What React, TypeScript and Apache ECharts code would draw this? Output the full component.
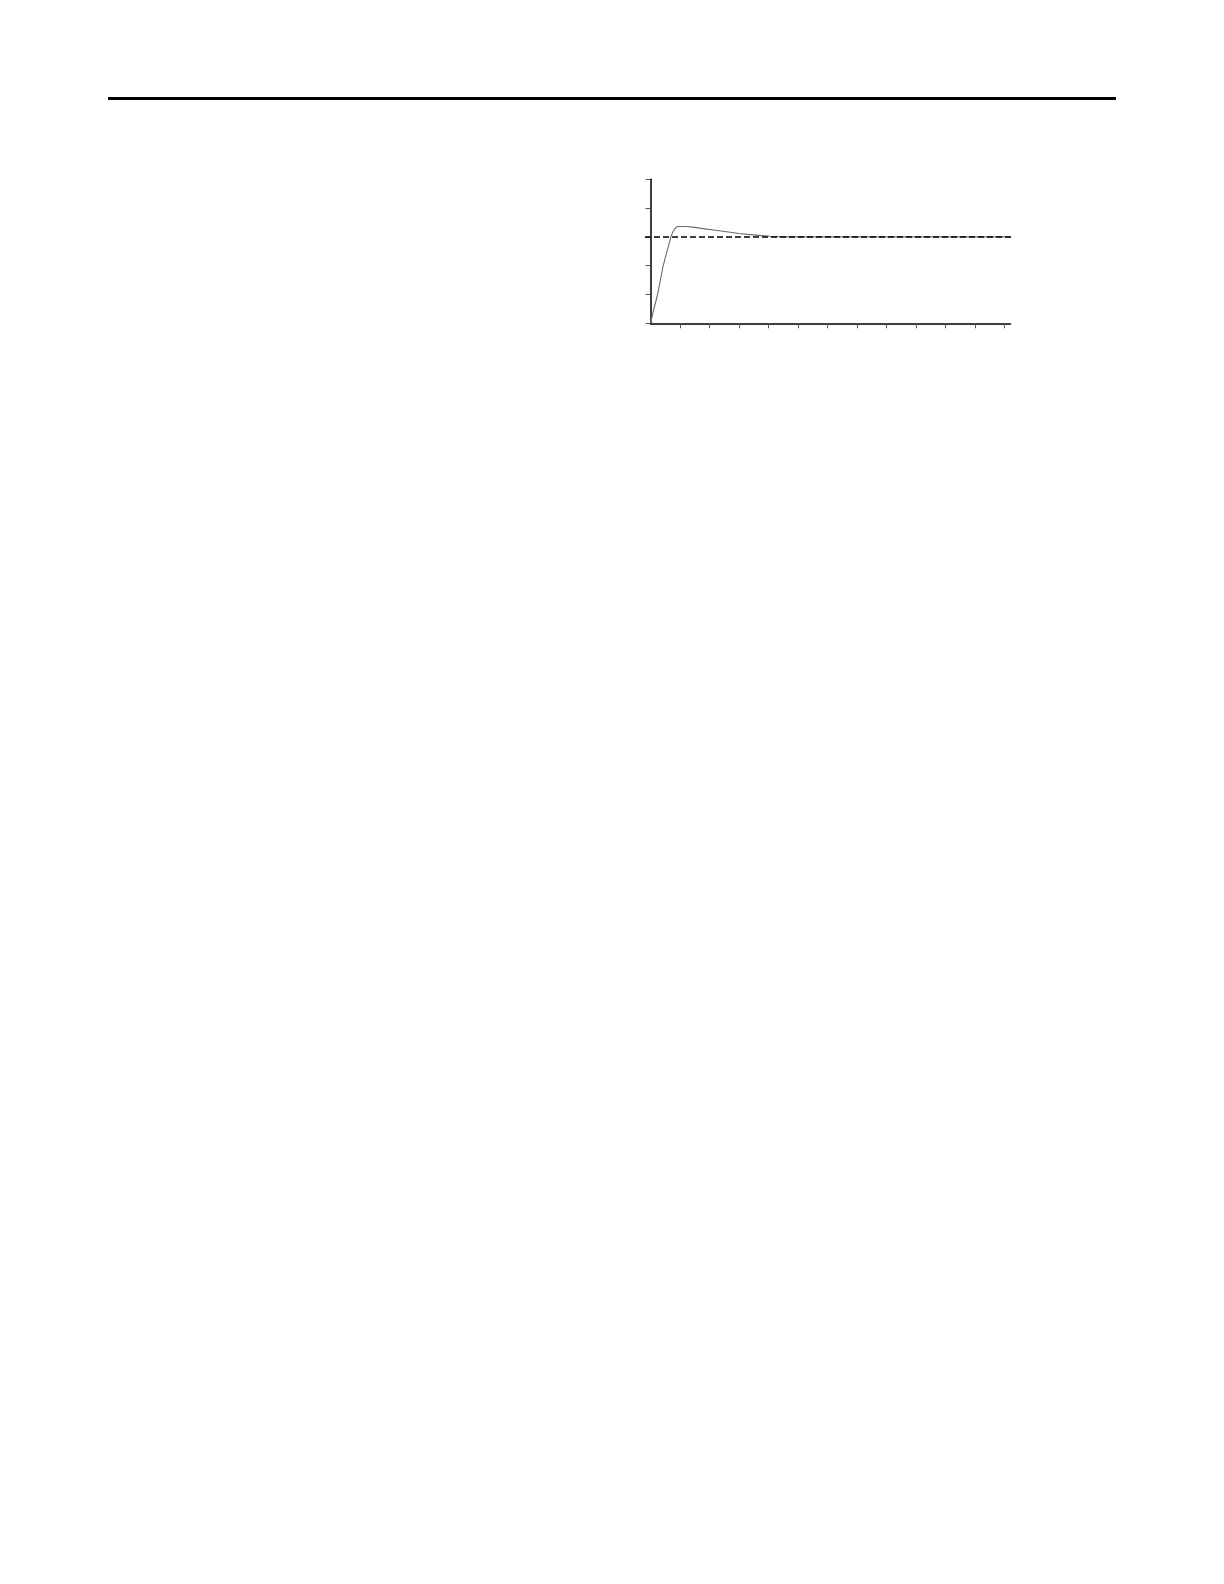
import React, { useEffect, useRef } from "react";
import * as echarts from "echarts";

// Response curve
const timeValues = [0, 0.1, 0.24, 0.43, 0.6, 0.69, 0.76, 0.82, 0.88, 0.95, 1.2, 1.5, 1.84, 2.2, 2.58, 3.0, 3.48, 4.04, 4.5, 12.2];
const responseValues = [0, 0.44, 1.0, 2.0, 2.65, 3.0, 3.18, 3.28, 3.34, 3.36, 3.36, 3.33, 3.28, 3.23, 3.18, 3.12, 3.07, 3.02, 3.0, 3.0];

// Reference (set-point) level
const setPointValue = 3;
const setPointSpan = [0, 1];

// Axis ticks
const xTickValues = [1, 2, 3, 4, 5, 6, 7, 8, 9, 10, 11, 12];
const xMax = 12.2;
const yMax = 5;

export default function App() {
  const ref = useRef<HTMLDivElement>(null);

  useEffect(() => {
    if (!ref.current) return;
    const chart = echarts.init(ref.current, null, { renderer: "svg" });
    const gridTop = 179.3;
    const gridHeight = 144;
    chart.setOption({
      animation: false,
      backgroundColor: "#ffffff",
      graphic: [
        {
          type: "rect",
          shape: { x: 108, y: 97, width: 1008, height: 3 },
          style: { fill: "#000000" },
          silent: true,
        },
      ],
      grid: [
        { left: 650.5, top: gridTop, width: 360, height: gridHeight, containLabel: false },
        { left: 645, top: gridTop, width: 366, height: gridHeight, containLabel: false },
      ],
      xAxis: [
        {
          type: "value",
          gridIndex: 0,
          min: 0,
          max: xMax,
          interval: 1,
          axisLine: { show: true, lineStyle: { color: "#000", width: 1.5 } },
          axisTick: {
            show: true,
            inside: false,
            length: 5,
            customValues: xTickValues,
            lineStyle: { color: "#555", width: 1 },
          },
          axisLabel: { show: false },
          splitLine: { show: false },
        },
        {
          type: "value",
          gridIndex: 1,
          min: setPointSpan[0],
          max: setPointSpan[1],
          show: false,
        },
      ],
      yAxis: [
        {
          type: "value",
          gridIndex: 0,
          min: 0,
          max: yMax,
          interval: 1,
          axisLine: { show: true, onZero: false, lineStyle: { color: "#000", width: 1.5 } },
          axisTick: { show: true, inside: false, length: 5, lineStyle: { color: "#555", width: 1 } },
          axisLabel: { show: false },
          splitLine: { show: false },
        },
        {
          type: "value",
          gridIndex: 1,
          min: 0,
          max: yMax,
          show: false,
        },
      ],
      series: [
        {
          type: "line",
          xAxisIndex: 1,
          yAxisIndex: 1,
          data: setPointSpan.map((x) => [x, setPointValue]),
          showSymbol: false,
          symbol: "none",
          lineStyle: { color: "#000", width: 1.5, type: [6, 3] },
          silent: true,
          z: 3,
        },
        {
          type: "line",
          xAxisIndex: 0,
          yAxisIndex: 0,
          data: timeValues.map((t, i) => [t, responseValues[i]]),
          showSymbol: false,
          symbol: "none",
          smooth: false,
          lineStyle: { color: "#6a6a6a", width: 1.1, join: "round" },
          silent: true,
          z: 2,
        },
      ],
    });
    return () => chart.dispose();
  }, []);

  return (
    <div
      ref={ref}
      style={{ position: "fixed", left: 0, top: 0, width: 1224, height: 1584, background: "#fff" }}
    />
  );
}
